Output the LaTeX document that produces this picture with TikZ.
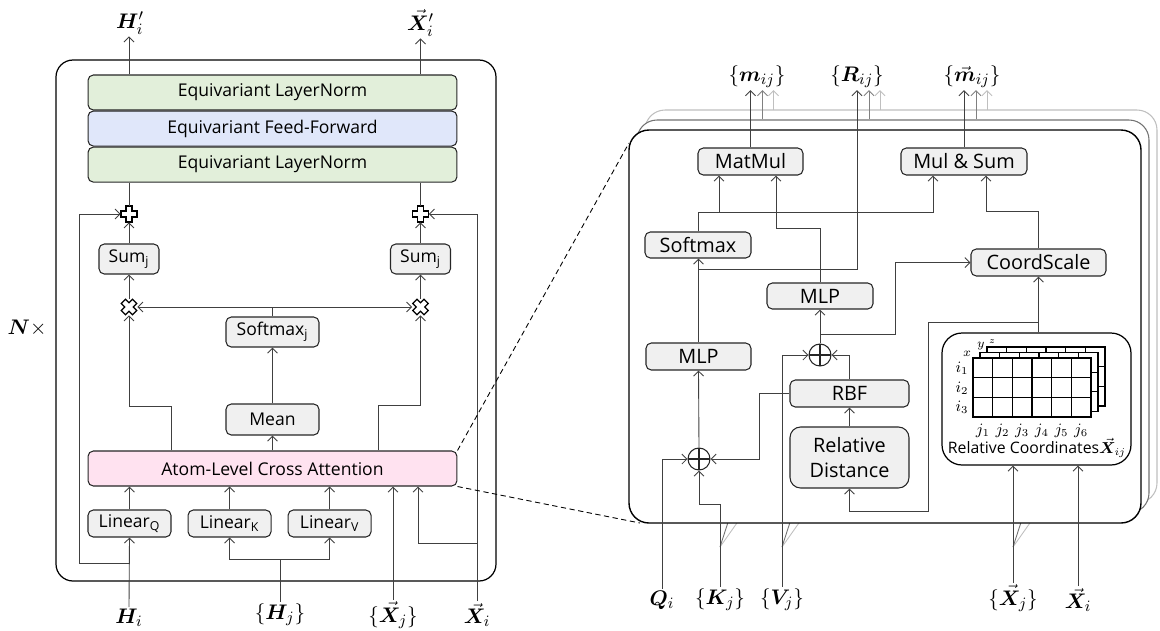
\documentclass[tikz,border=0pt]{standalone}
\usepackage{amsmath,amssymb}
\usepackage{bm}
\usepackage{fontspec}
\usepackage{tikz}
\usetikzlibrary{arrows.meta,calc,positioning}
\newfontfamily\uifont{Open Sans}
\definecolor{lngreen}{RGB}{226,239,218}
\definecolor{ffblue}{RGB}{224,231,250}
\definecolor{attpink}{RGB}{255,226,240}
\definecolor{opgray}{RGB}{240,240,240}

\begin{document}
\begin{tikzpicture}[
  x=0.02cm, y=-0.02cm,
  >={Straight Barb[length=1mm, width=2mm]},
  font=\uifont,
  box/.style={rectangle, draw=black!85, line width=0.6pt, fill=opgray, rounded corners=3pt, inner sep=1pt},
  layer/.style={box, minimum width=7.38cm, minimum height=0.7cm, font=\uifont\fontsize{10}{12}\selectfont},
  opl/.style={box, minimum height=0.6cm, font=\uifont\fontsize{10}{12}\selectfont},
  lin/.style={opl, minimum width=1.66cm, minimum height=0.54cm},
  opr/.style={box, minimum height=0.54cm, font=\uifont\fontsize{11.3}{14.7}\selectfont},
  opnode/.style={rectangle, minimum size=0.32cm, inner sep=0pt},
  oplus/.style={circle, draw=black!85, line width=0.6pt, minimum size=0.44cm, inner sep=0pt,
    path picture={\draw[line width=0.6pt] (path picture bounding box.north) -- (path picture bounding box.south)
      (path picture bounding box.west) -- (path picture bounding box.east);}},
  io/.style={inner sep=1pt, font=\fontsize{12.4}{14}\selectfont},
  arrow/.style={->, line width=0.5pt, black!75},
  link/.style={line width=0.5pt, black!75},
  gridline/.style={line width=0.7pt, black}
]
\useasboundingbox (0,0) rectangle (1160,630);

% Inputs and outputs
\node[io] (Hout) at (130,23) {$\bm{H}_i'$};
\node[io] (Xout) at (420.5,23) {$\vec{\bm{X}}_i'$};
\node[io] (Hin) at (129,618) {$\bm{H}_i$};
\node[io] (Hj) at (280,615) {$\{\bm{H}_j\}$};
\node[io] (Xj) at (393,615) {$\{\vec{\bm{X}}_j\}$};
\node[io] (Xin) at (477,615) {$\vec{\bm{X}}_i$};
\node[io] (nx) at (27,328) {$\bm{N}\times$};
\node[io] (mOut) at (757,77) {$\{\bm{m}_{ij}\}$};
\node[io] (ROut) at (857,77) {$\{\bm{R}_{ij}\}$};
\node[io] (vOut) at (972,77) {$\{\vec{\bm{m}}_{ij}\}$};
\node[io] (Qin) at (662,600) {$\bm{Q}_i$};
\node[io] (Kin) at (720,600) {$\{\bm{K}_j\}$};
\node[io] (Vin) at (782,600) {$\{\bm{V}_j\}$};
\node[io] (Xjin) at (1013,598) {$\{\vec{\bm{X}}_j\}$};
\node[io] (Xiin) at (1078,600) {$\vec{\bm{X}}_i$};

% Left block
\draw[line width=0.7pt, rounded corners=0.34cm] (56,60) rectangle (496,581);
\node[layer, fill=lngreen] (lnTop) at (272.5,92.5) {Equivariant LayerNorm};
\node[layer, fill=ffblue, below=0pt of lnTop] (ffn) {Equivariant Feed-Forward};
\node[layer, fill=lngreen, below=0pt of ffn] (lnBot) {Equivariant LayerNorm};

\node[opnode] (plusH) at (129,214) {};
\node[opnode] (plusX) at (420.5,214) {};
\node[opl, minimum width=1.2cm] (sumH) at (129,259) {Sum\textsubscript{j}};
\node[opl, minimum width=1.2cm] (sumX) at (420.5,259) {Sum\textsubscript{j}};
\node[opnode] (mulH) at (129,307) {};
\node[opnode] (mulX) at (420.5,307) {};
\node[opl, minimum width=1.86cm] (smJ) at (272.5,332) {Softmax\textsubscript{j}};
\node[opl, minimum width=1.86cm, minimum height=0.62cm] (mean) at (272.5,419.5) {Mean};
\node[layer, fill=attpink] (att) at (272.5,468.5) {Atom-Level Cross Attention};
\node[lin] (linQ) at (129.5,523.5) {Linear\textsubscript{Q}};
\node[lin, right=0.32cm of linQ] (linK) {Linear\textsubscript{K}};
\node[lin, right=0.32cm of linK] (linV) {Linear\textsubscript{V}};

\foreach \n/\r in {plusH/0,plusX/0,mulH/45,mulX/45}
  \draw[line width=0.7pt, shift={(\n.center)}, rotate=\r] (-3,-8) -- (3,-8) -- (3,-3) -- (8,-3) -- (8,3) -- (3,3)
    -- (3,8) -- (-3,8) -- (-3,3) -- (-8,3) -- (-8,-3) -- (-3,-3) -- cycle;

% Arrows - left block
\draw[arrow] (sumH |- lnTop.north) -- (sumH |- Hout.south);
\draw[arrow] (sumX |- lnTop.north) -- (sumX |- Xout.south);
\draw[link] (plusH.north) -- (plusH |- lnBot.south);
\draw[link] (plusX.north) -- (plusX |- lnBot.south);
\draw[arrow] (sumH.north) -- (plusH.south);
\draw[arrow] (sumX.north) -- (plusX.south);
\draw[arrow] (mulH.north) -- (sumH.south);
\draw[arrow] (mulX.north) -- (sumX.south);
\draw[link] (smJ.north) -- (smJ |- mulH);
\draw[<->, line width=0.5pt, black!75] (mulH.east) -- (mulX.west);
\draw[arrow] (mean.north) -- (smJ.south);
\draw[arrow] (att.north) -- (mean.south);
\draw[arrow] (att.north -| linQ.east) -- ++(0,-44) -| (mulH.south);
\draw[arrow] ($(att.north)+(105.5,0)$) -- ++(0,-45) -| (mulX.south);
\foreach \n in {linQ,linK,linV}
  \draw[arrow] (\n.north) -- (att.south -| \n.north);
\draw[arrow] (Hin.north) -- (linQ.south);
\coordinate (resH) at (79,563);
\draw[arrow] (Hin.north |- resH) -- (resH) |- (plusH.west);
\coordinate (splitHj) at (280,559);
\draw[link] (Hj.north) -- (splitHj);
\draw[arrow] (splitHj) -| (linK.south);
\draw[arrow] (splitHj) -| (linV.south);
\draw[arrow] (Xj.north) -- (att.south -| Xj.north);
\draw[arrow] (Xin.north) |- (plusX.east);
\coordinate (splitXi) at (477,543);
\draw[arrow] (splitXi) -| ($(att.south)+(145.5,0)$);

% Zoom lines
\coordinate (pNW) at (629,143);
\coordinate (pSW) at (640,523);
\draw[densely dashed, line width=0.5pt] (att.north east) -- (pNW);
\draw[densely dashed, line width=0.5pt] (att.south east) -- (pSW);

% Right block: stacked frames
\coordinate (f2top) at (0,119);
\coordinate (f3top) at (0,110);
\draw[black!25, fill=white, line width=0.6pt, rounded corners=0.4cm] (645,110) rectangle (1157,503);
\draw[black!55, fill=white, line width=0.6pt, rounded corners=0.4cm] (637,120) rectangle (1149,513);
\foreach \n in {Kin,Vin,Xjin} {
  \draw[line width=0.5pt, black!25] (\n.north |- 0,547) -- ++(31,-44);
  \draw[line width=0.5pt, black!55] (\n.north |- 0,547) -- ++(11,-34);
}
\draw[line width=0.8pt, fill=white, rounded corners=0.4cm] (629,130) rectangle (1141,523);

\node[opr, minimum width=2.1cm] (matmul) at (750.5,161.5) {MatMul};
\node[opr, minimum width=2.52cm] (mulsum) at (964,161.5) {Mul \& Sum};
\node[opr, minimum width=2.12cm, minimum height=0.52cm] (softmax) at (698,245) {Softmax};
\node[opr, minimum width=2.12cm, minimum height=0.52cm] (mlpR) at (820,296) {MLP};
\node[opr, minimum width=2.7cm] (coord) at (1038.5,262.5) {CoordScale};
\node[opr, minimum width=2.1cm] (mlpQ) at (698.5,356.5) {MLP};
\node[oplus] (sumR) at (820,355) {};
\node[opr, minimum width=2.38cm] (rbf) at (849.5,393.5) {RBF};
\node[opr, minimum width=2.38cm, minimum height=1.22cm, align=center, rounded corners=6pt] (dist) at (849.5,457.5) {Relative\\Distance};
\node[oplus] (sumQ) at (699,459) {};
\node[draw, line width=0.7pt, rounded corners=0.4cm, minimum width=3.78cm, minimum height=2.64cm] (rel) at (1036.5,399) {};

% Relative coordinate tensor
\foreach \l in {2,1,0} {
  \begin{scope}[shift={(973+7*\l,358-5.5*\l)}]
    \draw[gridline, fill=white] (0,0) rectangle (118,59);
    \foreach \c in {1,...,5} \draw[gridline] ({\c*19.67},0) -- ({\c*19.67},59);
    \foreach \r in {1,2} \draw[gridline] (0,{\r*19.67}) -- (118,{\r*19.67});
  \end{scope}
}
\node[inner sep=0pt, font=\scriptsize] (ax) at (967,354) {$x$};
\node[inner sep=0pt, font=\scriptsize] (ay) at (981,346) {$y$};
\node[inner sep=0pt, font=\tiny] (az) at (992,342) {$z$};
\foreach \k/\yy in {1/368,2/388,3/407}
  \node[inner sep=0pt, font=\small] (i\k) at (962,\yy) {$i_\k$};
\foreach \k in {1,...,6}
  \node[inner sep=0pt, font=\small] (j\k) at (973+19.67*\k-9.8,431) {$j_\k$};
\node[inner sep=0pt, font=\uifont\fontsize{9}{11}\selectfont] (relLabel) at (1037,448) {Relative Coordinates$\vec{\bm{X}}_{ij}$};

% Arrows - right block
\draw[arrow] (Qin.north) |- (sumQ.west);
\draw[arrow] (Kin.north) |- ($(sumQ.south)+(0,34)$) -- (sumQ.south);
\draw[arrow] (Vin.north) |- (sumR.west);
\draw[arrow] (rbf.west) -- ++(-30,0) |- (sumQ.east);
\draw[arrow] (rbf.north) |- (sumR.east);
\draw[arrow] (dist.north) -- (rbf.south);
\draw[arrow] (sumR.north) -- (mlpR.south);
\draw[arrow] (sumQ.north) -- (mlpQ.south);
\draw[arrow] (mlpQ.north) -- (mlpQ.north |- softmax.south);
\coordinate (splitR) at (698.5,269);
\draw[arrow] (splitR) -| (ROut.south);
\coordinate (splitS) at (698,212);
\draw[link] (softmax.north) -- (splitS);
\draw[arrow] (splitS) -| ($(matmul.south)+(-31.5,0)$);
\draw[arrow] (splitS) -| ($(mulsum.south)+(-31,0)$);
\draw[arrow] (mlpR.north) -- ++(0,-54) -| ($(matmul.south)+(25.5,0)$);
\draw[arrow] (coord.north) -- ++(0,-37) -| ($(mulsum.south)+(22,0)$);
\draw[arrow] (matmul.north) -- (matmul.north |- mOut.south);
\draw[arrow] (mulsum.north) -- (mulsum.north |- vOut.south);
\coordinate (splitC) at (820,334);
\draw[arrow] (splitC) -| ($(coord.west)+(-75,0)$) -- (coord.west);
\draw[arrow] (rel.north -| coord.south) -- (coord.south);
\coordinate (splitD) at (1038.5,322);
\draw[arrow] (splitD) -- ++(-110.5,0) |- ($(dist.south)+(0,23)$) -- (dist.south);
\draw[arrow] (Xjin.north) -- (rel.south -| Xjin.north);
\draw[arrow] (Xiin.north) -- (rel.south -| Xiin.north);

% Outputs of the stacked heads
\foreach \n in {matmul,ROut,mulsum} {
  \draw[->, line width=0.5pt, black!50] ($(\n.north |- f2top)+(12,0)$) -- ($(\n.north |- mOut.south)+(12,0)$);
  \draw[->, line width=0.5pt, black!25] ($(\n.north |- f3top)+(23,0)$) -- ($(\n.north |- mOut.south)+(23,0)$);
}

\end{tikzpicture}
\end{document}
